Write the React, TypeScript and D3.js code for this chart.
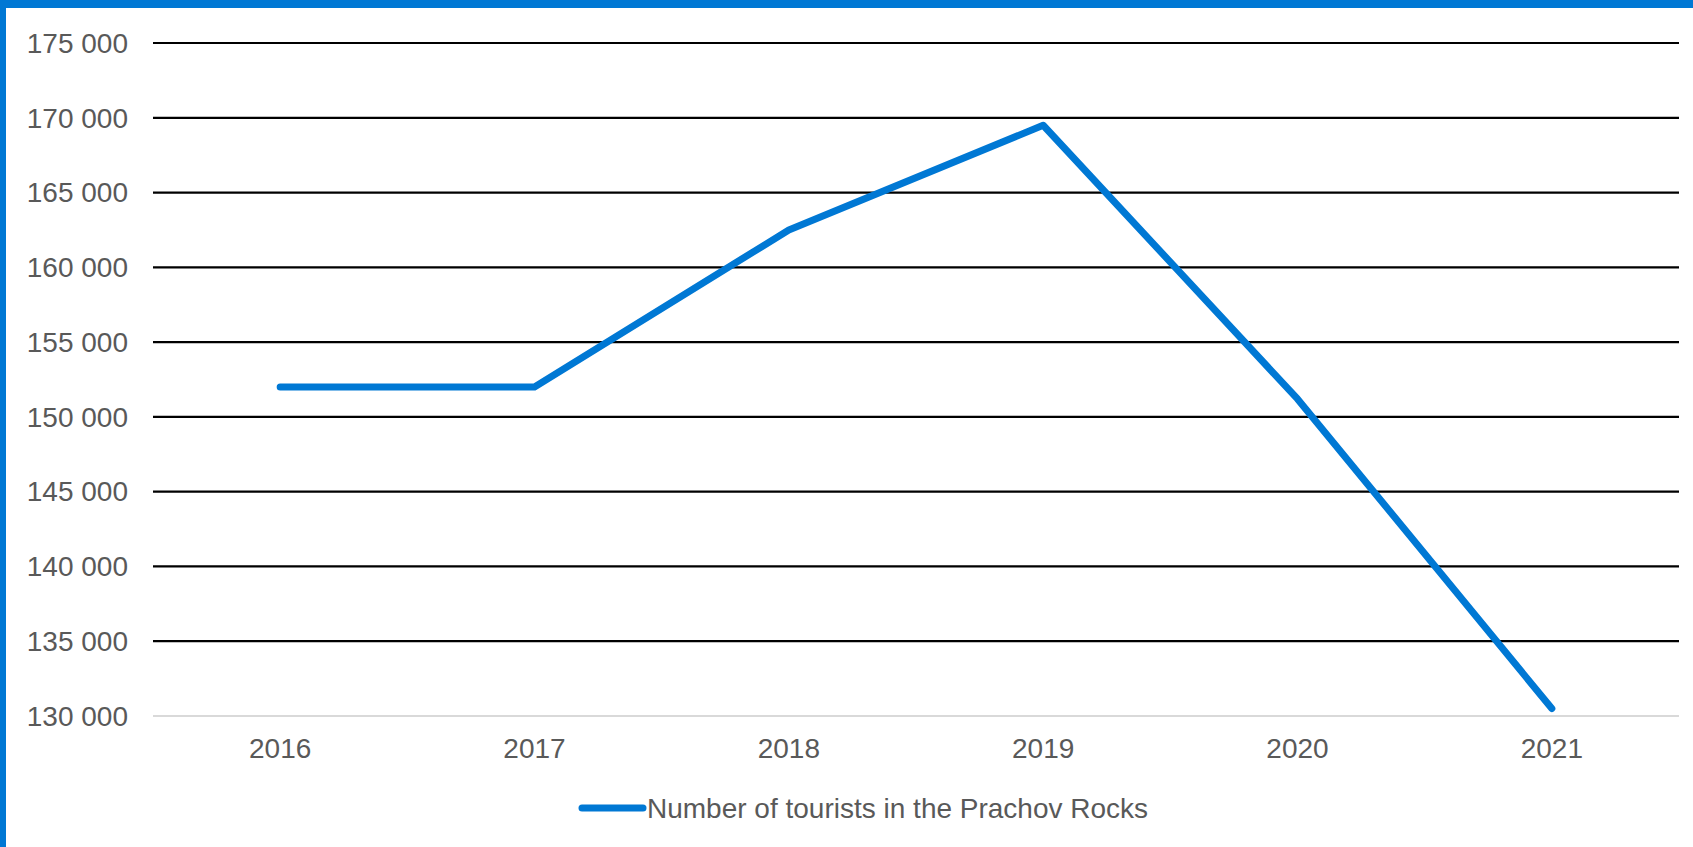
import React from "react";
import * as d3 from "d3";

const years = ["2016", "2017", "2018", "2019", "2020", "2021"];
const tourists = [152000, 152000, 162500, 169500, 151200, 130500];
const yTicks = [130000, 135000, 140000, 145000, 150000, 155000, 160000, 165000, 170000, 175000];
const seriesName = "Number of tourists in the Prachov Rocks";

const W = 1693;
const H = 847;
const BLUE = "#0078D4";
const FONT = "'Liberation Sans', Arial, sans-serif";

export default function App() {
  const left = 153;
  const right = 1679;
  const x = d3.scaleBand<string>().domain(years).range([left, right]).padding(0);
  const y = d3.scaleLinear().domain([130000, 175000]).range([716, 43]);
  const fmt = (v: number) => d3.format(",")(v).replace(/,/g, " ");
  const line = d3
    .line<number>()
    .x((_, i) => (x(years[i]) as number) + x.bandwidth() / 2)
    .y((d) => y(d));

  return (
    <div style={{ position: "absolute", left: 0, top: 0 }}>
      <svg width={W} height={H} style={{ display: "block" }}>
        <rect x={0} y={0} width={W} height={H} fill="#fff" />
        <rect x={0} y={0} width={W} height={8} fill={BLUE} />
        <rect x={0} y={0} width={6} height={H} fill={BLUE} />
        {yTicks.map((t) => (
          <g key={t}>
            {t !== 130000 && (
              <line x1={left} x2={right} y1={y(t)} y2={y(t)} stroke="#000" strokeWidth={2.2} />
            )}
            <text
              x={128}
              y={y(t)}
              dy="0.35em"
              textAnchor="end"
              fontFamily={FONT}
              fontSize={28}
              fill="#595959"
            >
              {fmt(t)}
            </text>
          </g>
        ))}
        <line x1={left} x2={right} y1={y(130000)} y2={y(130000)} stroke="#d9d9d9" strokeWidth={2.2} />
        {years.map((yr) => (
          <text
            key={yr}
            x={(x(yr) as number) + x.bandwidth() / 2}
            y={758}
            textAnchor="middle"
            fontFamily={FONT}
            fontSize={28}
            fill="#595959"
          >
            {yr}
          </text>
        ))}
        <path
          d={line(tourists) || ""}
          fill="none"
          stroke={BLUE}
          strokeWidth={7}
          strokeLinejoin="round"
          strokeLinecap="round"
        />
        <line x1={582} x2={643} y1={808} y2={808} stroke={BLUE} strokeWidth={7} strokeLinecap="round" />
        <text x={647} y={808} dy="0.35em" fontFamily={FONT} fontSize={28} fill="#595959">
          {seriesName}
        </text>
      </svg>
    </div>
  );
}
